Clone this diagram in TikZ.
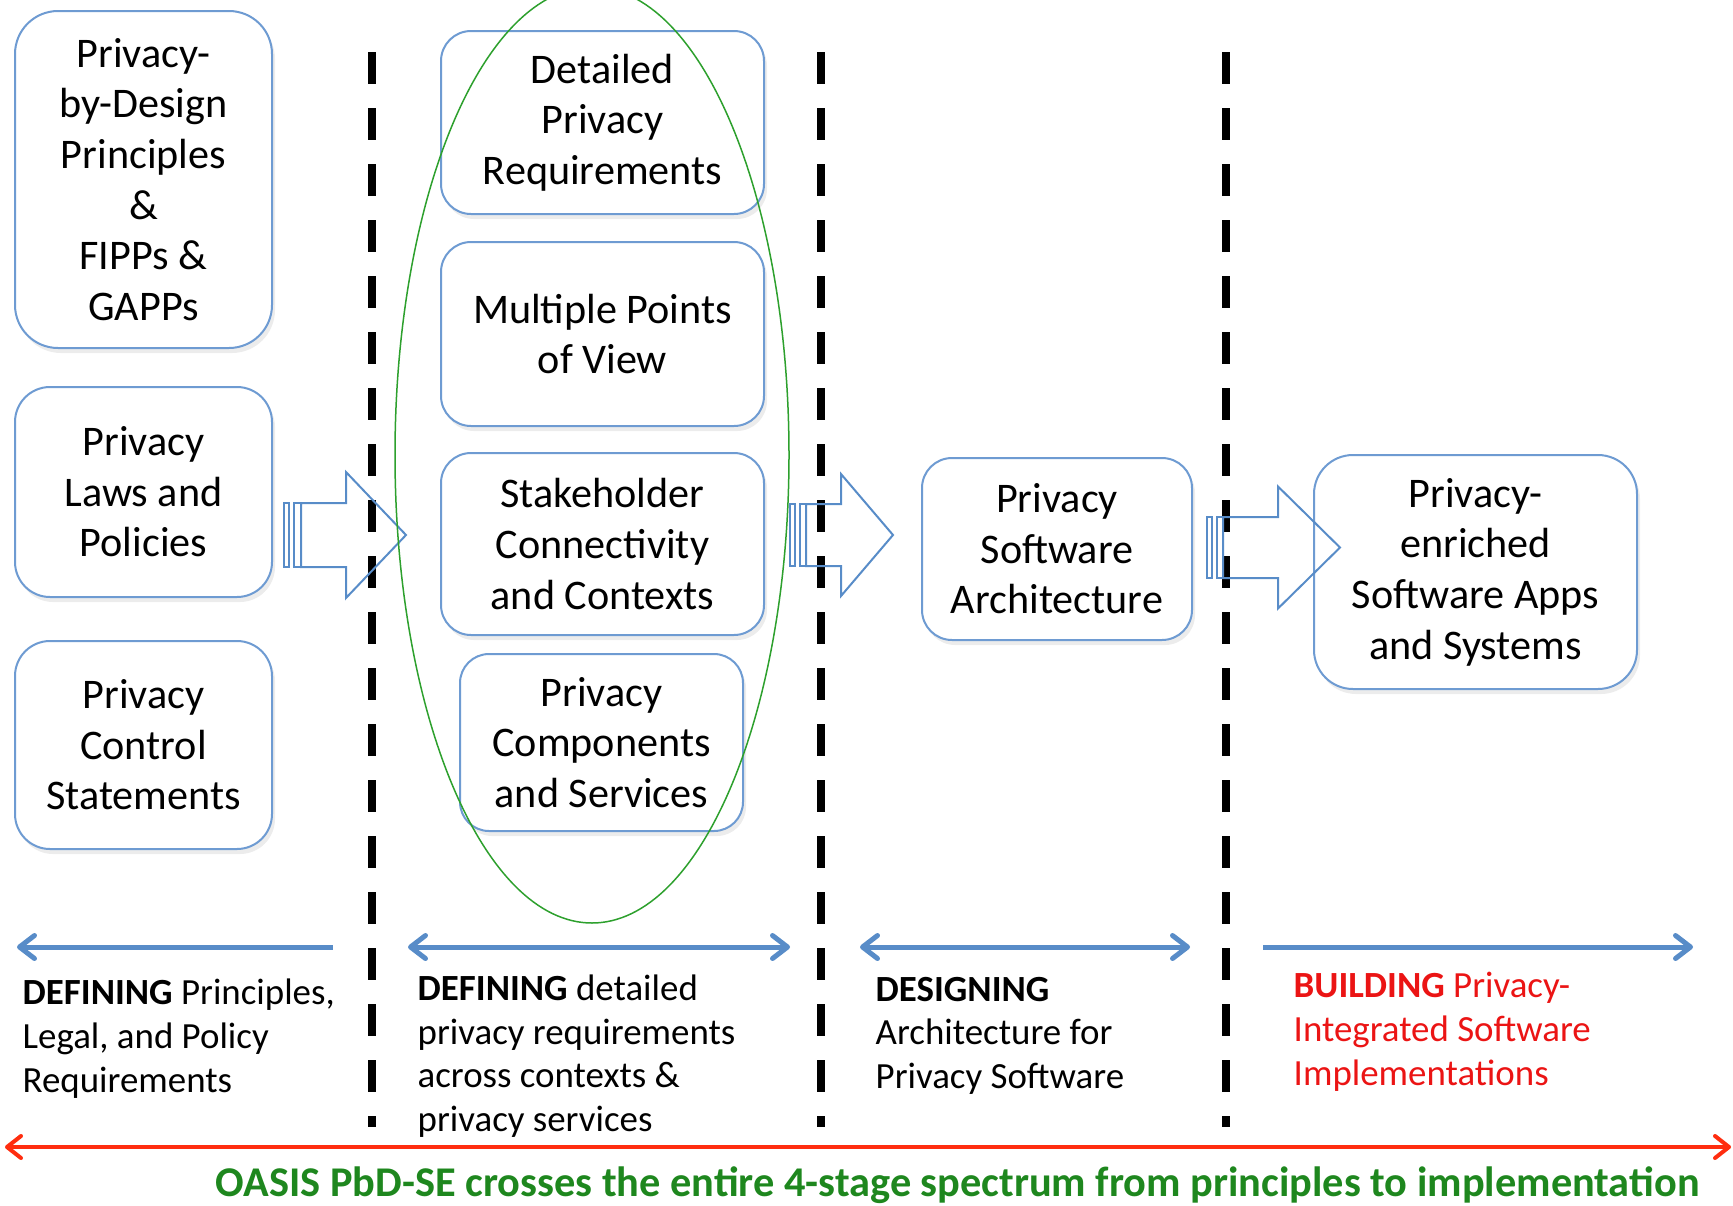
\documentclass[tikz,border=0pt]{standalone}
\usepackage{fontspec}
\setmainfont{Carlito}
\usetikzlibrary{arrows.meta,shadows}
\definecolor{boxblue}{RGB}{110,155,210}
\definecolor{lineblue}{RGB}{88,140,200}
\definecolor{ovalgreen}{RGB}{45,160,45}
\definecolor{textgreen}{RGB}{30,135,30}
\definecolor{spanred}{RGB}{255,45,15}
\definecolor{buildred}{RGB}{235,20,20}
\begin{document}
\begin{tikzpicture}[x=0.1mm, y=-0.1mm,
  every node/.style = {align=center, font=\fontsize{12}{14.4}\selectfont},
  pbox/.style = {shape=rectangle, rounded corners=#1, draw=boxblue,
    line width=0.2mm, fill=white, inner sep=0pt,
    drop shadow={shadow xshift=0.3mm, shadow yshift=-0.5mm, opacity=0.15}},
  stage/.style = {align=left, anchor=base west, inner sep=0pt,
    font=\fontsize{10.5}{12.4}\selectfont},
  divider/.style = {line width=0.8mm, dash pattern=on 3.2mm off 2.4mm},
  blockarrow/.style = {draw=lineblue, line width=0.2mm},
  barb/.tip = {Straight Barb[length=1.5mm, width=2.3mm, round]},
  redbarb/.tip = {Straight Barb[length=1.4mm, width=2.2mm, round]},
  phase/.style = {draw=lineblue, line width=0.5mm},
  oval/.style = {draw=ovalgreen, line width=0.15mm}
  ]
  \useasboundingbox (0,0) rectangle (1733,1205);
  \clip (0,0) rectangle (1733,1205);

  \foreach \x in {372,821,1226}
    \draw[divider] (\x,52) -- (\x,1127);

  \node[pbox=4.3mm, minimum width=25.7mm, minimum height=33.7mm] (pbd) at (143.5,179.5)
    {Privacy-\\by-Design\\Principles\\\&\\FIPPs \&\\GAPPs};
  \node[pbox=3.5mm, minimum width=25.7mm, minimum height=21mm] (laws) at (143.5,492)
    {Privacy\\Laws and\\Policies};
  \node[pbox=3.5mm, minimum width=25.7mm, minimum height=20.8mm] (ctrl) at (143.5,745)
    {Privacy\\Control\\Statements};
  \node[pbox=3mm, minimum width=32.3mm, minimum height=18.3mm] (req) at (602.5,122.5)
    {Detailed\\Privacy\\Requirements};
  \node[pbox=3mm, minimum width=32.3mm, minimum height=18.4mm] (views) at (602.5,334)
    {Multiple Points\\of View};
  \node[pbox=3mm, minimum width=32.3mm, minimum height=18.2mm] (ctx) at (602.5,544)
    {Stakeholder\\Connectivity\\and Contexts};
  \node[pbox=2.9mm, minimum width=28.3mm, minimum height=17.7mm] (comp) at (601.5,742.5)
    {Privacy\\Components\\and Services};
  \node[pbox=3mm, minimum width=27mm, minimum height=18.2mm] (arch) at (1057,549)
    {Privacy\\Software\\Architecture};
  \node[pbox=3.9mm, minimum width=32.3mm, minimum height=23.4mm] (apps) at (1475.5,572)
    {Privacy-\\enriched\\Software Apps\\and Systems};

  \foreach \t/\s/\h/\e/\m/\b/\a in {284/301/346/406/535/32/63,
      790/806/841/893/535/31/61, 1207/1223/1278/1340/547.5/30.5/61}{
    \draw[blockarrow] (\t,\m-\b) rectangle (\t+5,\m+\b);
    \draw[blockarrow] (\t+10,\m-\b) rectangle (\s,\m+\b);
    \draw[blockarrow] (\s,\m-\b) -- (\h,\m-\b) -- (\h,\m-\a) -- (\e,\m)
      -- (\h,\m+\a) -- (\h,\m+\b) -- (\s,\m+\b) -- cycle;
  }

  \draw[oval] (592,455) ellipse [x radius=197, y radius=468];

  \coordinate (p1a) at (17,947);   \coordinate (p1b) at (333,947);
  \coordinate (p2a) at (408,947);  \coordinate (p2b) at (790,947);
  \coordinate (p3a) at (860,947);  \coordinate (p3b) at (1190,947);
  \coordinate (p4a) at (1263,947); \coordinate (p4b) at (1693,947);
  \draw[phase, barb-] (p1a) -- (p1b);
  \draw[phase, barb-barb] (p2a) -- (p2b);
  \draw[phase, barb-barb] (p3a) -- (p3b);
  \draw[phase, -barb] (p4a) -- (p4b);

  \node[stage] (def1) at (22,1092)
    {\textbf{DEFINING} Principles,\\Legal, and Policy\\Requirements};
  \node[stage] (def2) at (417,1131.5)
    {\textbf{DEFINING} detailed\\privacy requirements\\across contexts \&\\privacy services};
  \node[stage] (des) at (875,1088.5)
    {\textbf{DESIGNING}\\Architecture for\\Privacy Software};
  \node[stage, text=buildred] (bld) at (1293,1085)
    {\textbf{BUILDING} Privacy-\\Integrated Software\\Implementations};

  \coordinate (sa) at (5,1147); \coordinate (sb) at (1731,1147);
  \draw[line width=0.4mm, draw=spanred, redbarb-redbarb] (sa) -- (sb);
  \node[anchor=base west, inner sep=0pt, text=textgreen,
    font=\bfseries\fontsize{12.05}{14}\selectfont] (oasis) at (215,1196)
    {OASIS PbD-SE crosses the entire 4-stage spectrum from principles to implementation};
\end{tikzpicture}
\end{document}
